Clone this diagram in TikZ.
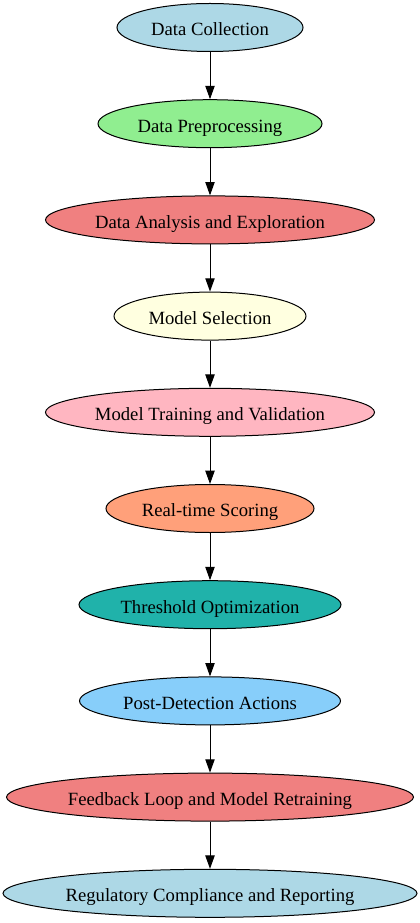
\documentclass[tikz,border=0pt]{standalone}
\usepackage{fontspec}
\setmainfont{Liberation Serif}
\usetikzlibrary{shapes.geometric,arrows.meta}
\definecolor{cLightBlue}{HTML}{ADD8E6}
\definecolor{cLightGreen}{HTML}{90EE90}
\definecolor{cLightCoral}{HTML}{F08080}
\definecolor{cLightYellow}{HTML}{FFFFE0}
\definecolor{cLightPink}{HTML}{FFB6C1}
\definecolor{cLightSalmon}{HTML}{FFA07A}
\definecolor{cSeaGreen}{HTML}{20B2AA}
\definecolor{cSkyBlue}{HTML}{87CEFA}
\tikzset{
  stepnode/.style={ellipse, draw=black, line width=0.75pt, inner sep=0pt,
    minimum height=36pt, text height=12.6pt, text depth=0pt,
    font=\fontsize{14pt}{16pt}\selectfont},
  flowarrow/.style={draw=black, line width=0.75pt, -{Triangle[length=10pt,width=7pt]}}
}
\begin{document}
\begin{tikzpicture}[x=0.75pt,y=-0.75pt]
\useasboundingbox (0,0) rectangle (420,923);
\node[stepnode, fill=cLightBlue, minimum width=186*0.75pt] (n1) at (210,27.5) {Data Collection};
\node[stepnode, fill=cLightGreen, minimum width=224*0.75pt] (n2) at (210,123.7) {Data Preprocessing};
\node[stepnode, fill=cLightCoral, minimum width=329*0.75pt] (n3) at (210,219.9) {Data Analysis and Exploration};
\node[stepnode, fill=cLightYellow, minimum width=192*0.75pt] (n4) at (210,316.1) {Model Selection};
\node[stepnode, fill=cLightPink, minimum width=329*0.75pt] (n5) at (210,412.3) {Model Training and Validation};
\node[stepnode, fill=cLightSalmon, minimum width=208*0.75pt] (n6) at (210,508.5) {Real-time Scoring};
\node[stepnode, fill=cSeaGreen, minimum width=262*0.75pt] (n7) at (210,604.7) {Threshold Optimization};
\node[stepnode, fill=cSkyBlue, minimum width=261*0.75pt] (n8) at (210,700.9) {Post-Detection Actions};
\node[stepnode, fill=cLightCoral, minimum width=407*0.75pt] (n9) at (210,797.1) {Feedback Loop and Model Retraining};
\node[stepnode, fill=cLightBlue, minimum width=414*0.75pt] (n10) at (210,893.3) {Regulatory Compliance and Reporting};
\foreach \a/\b in {n1/n2,n2/n3,n3/n4,n4/n5,n5/n6,n6/n7,n7/n8,n8/n9,n9/n10}
  \draw[flowarrow] (\a.south) -- (\b.north);
\end{tikzpicture}
\end{document}
